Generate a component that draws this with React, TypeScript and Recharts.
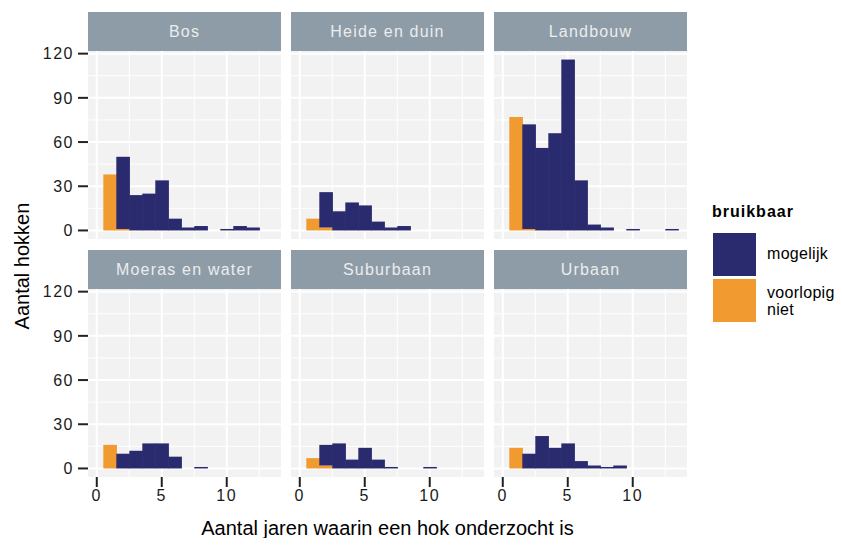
import React from 'react';
import { BarChart, Bar, XAxis, YAxis, CartesianGrid } from 'recharts';

// aantal jaren (histogram bins, width 1)
const bins = [1, 2, 3, 4, 5, 6, 7, 8, 9, 10, 11, 12, 13];
const facets = ['Bos', 'Heide en duin', 'Landbouw', 'Moeras en water', 'Suburbaan', 'Urbaan'];

const mogelijkBos = [0, 49, 24, 25, 34, 8, 2, 3, 0, 1, 3, 2, 0];
const nietBos = [38, 1, 0, 0, 0, 0, 0, 0, 0, 0, 0, 0, 0];
const mogelijkHeide = [0, 24, 13, 19, 17, 6, 2, 3, 0, 0, 0, 0, 0];
const nietHeide = [8, 2, 0, 0, 0, 0, 0, 0, 0, 0, 0, 0, 0];
const mogelijkLandbouw = [0, 71, 56, 66, 116, 34, 4, 2, 0, 1, 0, 0, 1];
const nietLandbouw = [77, 1, 0, 0, 0, 0, 0, 0, 0, 0, 0, 0, 0];
const mogelijkMoeras = [0, 10, 12, 17, 17, 8, 0, 1, 0, 0, 0, 0, 0];
const nietMoeras = [16, 0, 0, 0, 0, 0, 0, 0, 0, 0, 0, 0, 0];
const mogelijkSuburbaan = [0, 14, 17, 6, 14, 6, 1, 0, 0, 1, 0, 0, 0];
const nietSuburbaan = [7, 2, 0, 0, 0, 0, 0, 0, 0, 0, 0, 0, 0];
const mogelijkUrbaan = [0, 10, 22, 14, 17, 5, 2, 1, 2, 0, 0, 0, 0];
const nietUrbaan = [14, 0, 0, 0, 0, 0, 0, 0, 0, 0, 0, 0, 0];

const xTicks = [0, 5, 10];
const xMinor = [2.5, 7.5, 12.5];
const yTicks = [0, 30, 60, 90, 120];
const yMinor = [15, 45, 75, 105];

const series = [
  [mogelijkBos, nietBos],
  [mogelijkHeide, nietHeide],
  [mogelijkLandbouw, nietLandbouw],
  [mogelijkMoeras, nietMoeras],
  [mogelijkSuburbaan, nietSuburbaan],
  [mogelijkUrbaan, nietUrbaan],
];

const NAVY = '#2a2a6e';
const ORANGE = '#f09a30';
const FONT = '"Liberation Sans", Arial, sans-serif';

const PANEL_W = 193;
const PANEL_H = 188;
const STRIP_H = 39;
const YW = 50;
const XH = 34;
const TOP_PAD = 12;
const colX = [88, 291, 494];
const rowY = [51, 289];
const X_DOMAIN = [-0.675, 14.175];
const Y_DOMAIN = [-5.8, 121.8];
// one year on the x scale, in px
const BIN_PX = PANEL_W / (X_DOMAIN[1] - X_DOMAIN[0]);

const tickStyle = { fontSize: 16, fill: '#1a1a1a', fontFamily: FONT, letterSpacing: 1.5 };

// histogram bars: keep recharts' centre, draw the full bin width so bars touch
const HistBar = (props: any) => {
  const { x, y, width, height, fill } = props;
  if (!height || height <= 0) return null;
  const cx = x + width / 2;
  return (
    <rect x={cx - BIN_PX / 2 - 0.3} y={y} width={BIN_PX + 0.6} height={height} fill={fill} />
  );
};

const Panel = ({ idx }: { idx: number }) => {
  const col = idx % 3;
  const row = Math.floor(idx / 3);
  const showY = col === 0;
  const showX = row === 1;
  const [mog, niet] = series[idx];
  const rows = bins.map((b, i) => ({ jaren: b, mogelijk: mog[i], niet: niet[i] }));
  return (
    <>
      <div
        style={{
          position: 'absolute',
          left: colX[col],
          top: rowY[row] - STRIP_H,
          width: PANEL_W,
          height: STRIP_H,
          background: '#8e9ca8',
          color: '#ececec',
          fontSize: 16,
          lineHeight: `${STRIP_H}px`,
          textAlign: 'center',
          letterSpacing: 1.2,
        }}
      >
        {facets[idx]}
      </div>
      <div style={{ position: 'absolute', left: colX[col] - (showY ? YW : 0), top: rowY[row] - TOP_PAD }}>
        <BarChart
          width={PANEL_W + (showY ? YW : 0)}
          height={PANEL_H + TOP_PAD + (showX ? XH : 0)}
          data={rows}
          margin={{ top: TOP_PAD, right: 0, bottom: 0, left: 0 }}
          barGap={0}
          barCategoryGap={0}
        >
          <CartesianGrid
            fill="#f2f2f2"
            stroke="#ffffff"
            strokeWidth={1}
            horizontalValues={yMinor}
            verticalValues={xMinor}
          />
          <CartesianGrid
            stroke="#ffffff"
            strokeWidth={2}
            horizontalValues={yTicks}
            verticalValues={xTicks}
          />
          <XAxis
            dataKey="jaren"
            type="number"
            domain={X_DOMAIN}
            allowDataOverflow
            ticks={xTicks}
            interval={0}
            hide={!showX}
            height={XH}
            axisLine={false}
            tickSize={10}
            tickMargin={3}
            tickLine={{ stroke: '#222', strokeWidth: 2 }}
            tick={tickStyle}
          />
          <YAxis
            type="number"
            domain={Y_DOMAIN}
            allowDataOverflow
            ticks={yTicks}
            interval={0}
            hide={!showY}
            width={YW}
            axisLine={false}
            tickSize={10}
            tickMargin={4}
            tickLine={{ stroke: '#222', strokeWidth: 2 }}
            tick={tickStyle}
          />
          <Bar dataKey="niet" stackId="a" fill={ORANGE} barSize={BIN_PX} shape={HistBar} isAnimationActive={false} />
          <Bar dataKey="mogelijk" stackId="a" fill={NAVY} barSize={BIN_PX} shape={HistBar} isAnimationActive={false} />
        </BarChart>
      </div>
    </>
  );
};

export default function App() {
  return (
    <div
      style={{
        position: 'relative',
        width: 842,
        height: 546,
        background: '#ffffff',
        fontFamily: FONT,
        margin: -8,
      }}
    >
      {facets.map((_, i) => (
        <Panel key={i} idx={i} />
      ))}
      <div
        style={{
          position: 'absolute',
          left: 22 - 150,
          top: 266 - 13,
          width: 300,
          textAlign: 'center',
          fontSize: 20,
          lineHeight: '26px',
          transform: 'rotate(-90deg)',
          color: '#000',
        }}
      >
        Aantal hokken
      </div>
      <div
        style={{
          position: 'absolute',
          left: 88,
          top: 515,
          width: 599,
          textAlign: 'center',
          fontSize: 20,
          lineHeight: '26px',
          color: '#000',
        }}
      >
        Aantal jaren waarin een hok onderzocht is
      </div>
      <div style={{ position: 'absolute', left: 712, top: 203, fontSize: 16, fontWeight: 'bold', letterSpacing: 1 }}>
        bruikbaar
      </div>
      <div style={{ position: 'absolute', left: 713, top: 233, width: 43, height: 43, background: NAVY }} />
      <div style={{ position: 'absolute', left: 713, top: 279, width: 43, height: 43, background: ORANGE }} />
      <div style={{ position: 'absolute', left: 767, top: 245, fontSize: 16, letterSpacing: 0.3 }}>mogelijk</div>
      <div style={{ position: 'absolute', left: 767, top: 284, fontSize: 16, lineHeight: '17px', letterSpacing: 0.3 }}>
        voorlopig
        <br />
        niet
      </div>
    </div>
  );
}
